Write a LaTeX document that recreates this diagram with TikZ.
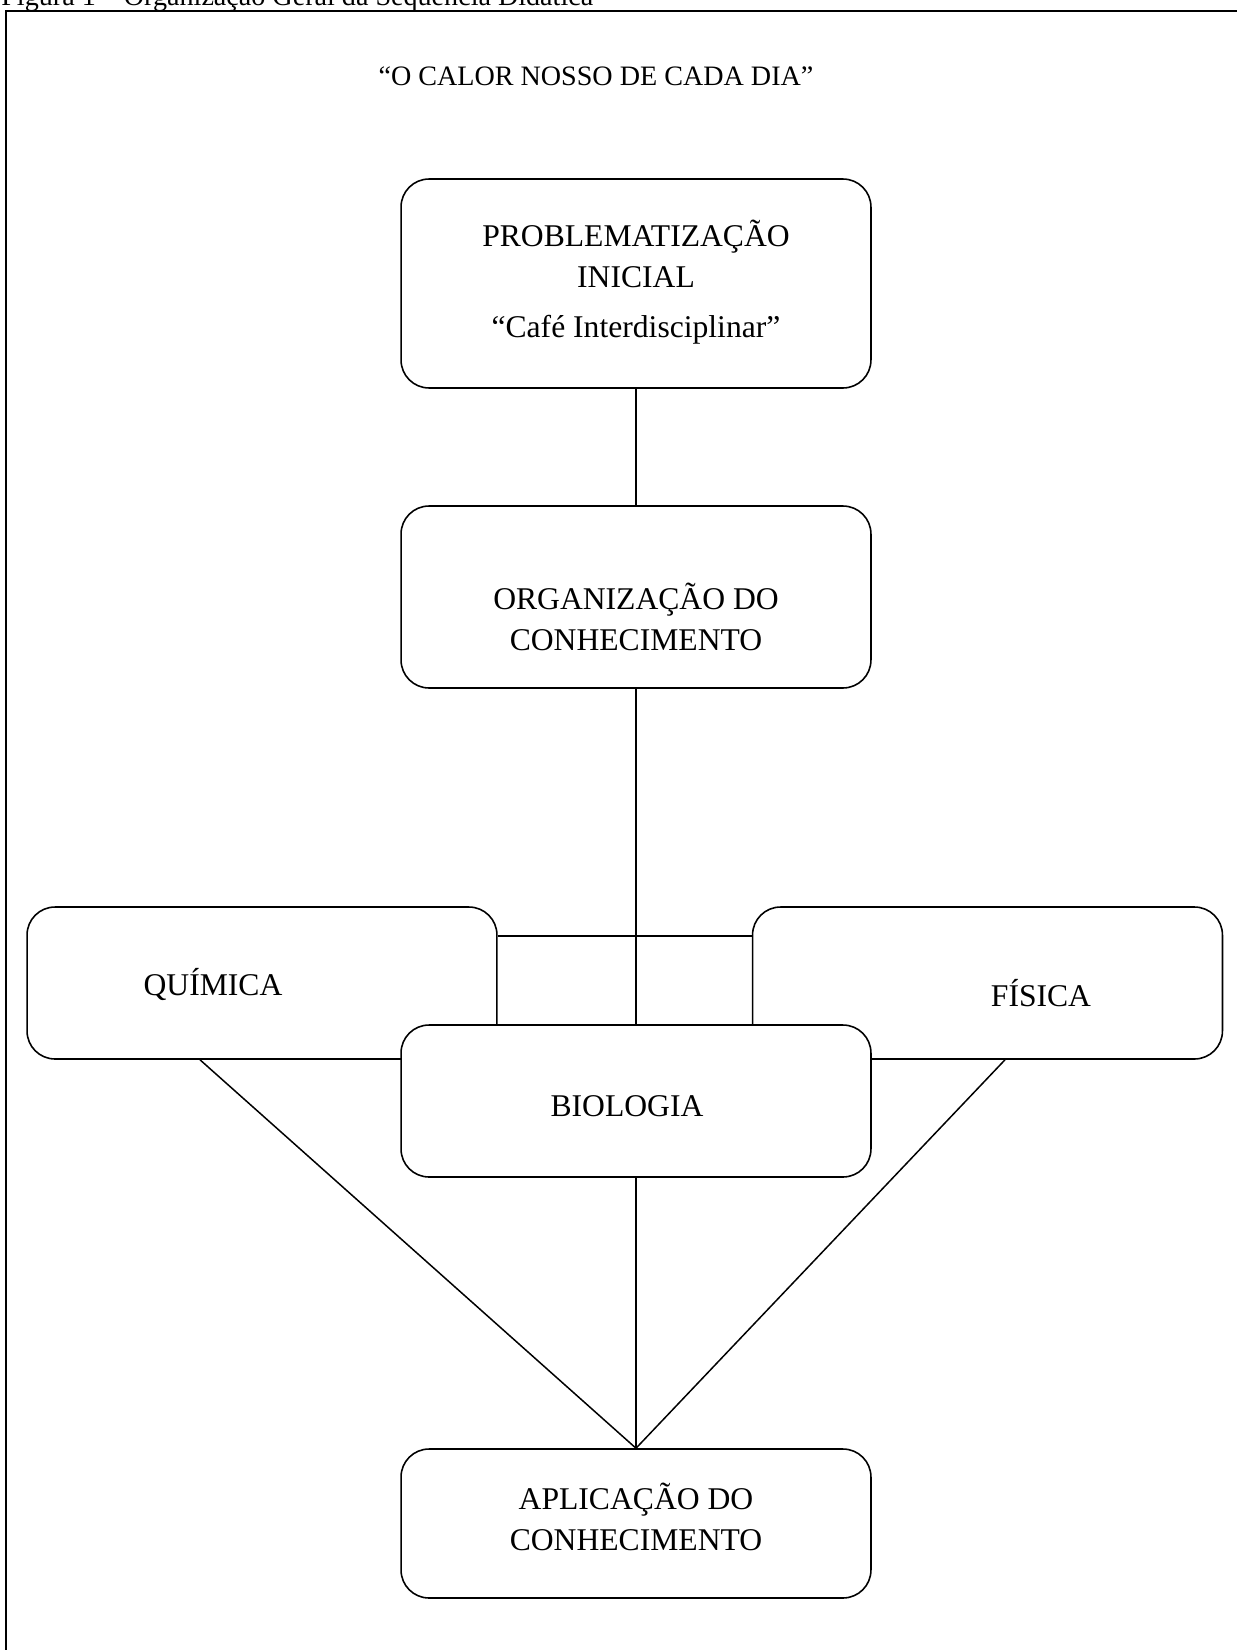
\documentclass[tikz,border=0pt]{standalone}
\usepackage{fontspec}
\setmainfont{Liberation Serif}
\usetikzlibrary{calc}

\begin{document}
\begin{tikzpicture}[x=0.02cm, y=-0.02cm,
    caixa/.style={draw, line width=0.9pt, rounded corners=0.56cm, fill=white, minimum width=9.4cm, inner sep=0pt},
    texto/.style={align=center, font=\fontsize{18}{23.3}\selectfont},
    liga/.style={line width=0.85pt}]
  \useasboundingbox (0,0) rectangle (1237,1650);
  % moldura
  \draw[line width=1.2pt] (6,1700) -- (6,11) -- (1300,11);
  \node[anchor=base west, font=\fontsize{16}{19}\selectfont, inner sep=0pt] (legenda) at (1,5) {Figura 1 – Organização Geral da Sequência Didática};
  \node[texto, anchor=base, font=\fontsize{16}{19}\selectfont] (titulo) at (596,85) {“O CALOR NOSSO DE CADA DIA”};

  % caixas
  \node[caixa, minimum height=4.18cm] (prob) at (636,283.5) {};
  \node[caixa, minimum height=3.64cm] (org) at (636,597) {};
  \node[caixa, minimum height=3.04cm] (qui) at (262,983) {};
  \node[caixa, minimum height=3.04cm] (fis) at (987.5,983) {};
  \node[caixa, minimum height=3.04cm] (bio) at (636,1101) {};
  \node[caixa, minimum height=2.98cm] (apl) at (636,1523.5) {};

  % textos
  \node[texto] (probtxt) at (636,282) {PROBLEMATIZAÇÃO\\INICIAL\\[0.18cm]“Café Interdisciplinar”};
  \node[texto] (orgtxt) at (636,617) {ORGANIZAÇÃO DO\\CONHECIMENTO};
  \node[texto, anchor=base] (quitxt) at (213,995) {QUÍMICA};
  \node[texto, anchor=base] (fistxt) at (1041,1006) {FÍSICA};
  \node[texto, anchor=base] (biotxt) at (627,1116) {BIOLOGIA};
  \node[texto] (apltxt) at (636,1517) {APLICAÇÃO DO\\CONHECIMENTO};

  % ligacoes
  \coordinate (barra) at (636,936);
  \draw[liga] (prob) -- (org);
  \draw[liga] (org) -- (bio);
  \draw[liga] (barra -| qui.east) -- (barra -| fis.west);
  \draw[liga] ($(qui.south)+(-62,0)$) -- (apl.north);
  \draw[liga] ($(fis.south)+(17.5,0)$) -- (apl.north);
  \draw[liga] (bio) -- (apl);
\end{tikzpicture}
\end{document}
